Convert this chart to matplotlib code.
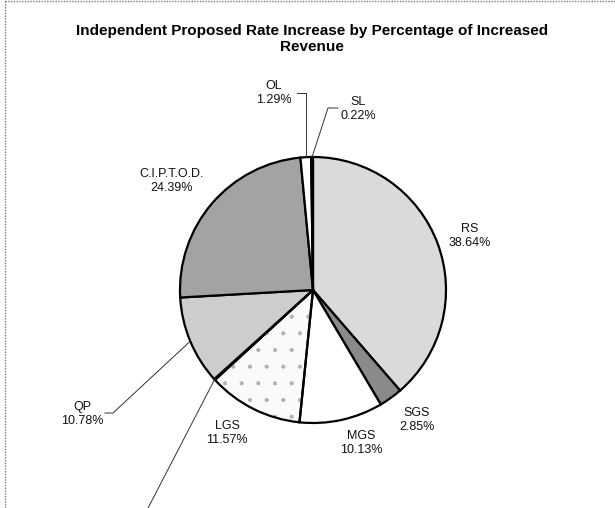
import numpy as np
import matplotlib
matplotlib.use("Agg")
import matplotlib.pyplot as plt
from matplotlib.lines import Line2D
from matplotlib.patches import Wedge

plt.rcParams['font.family'] = ['Liberation Sans', 'DejaVu Sans']
plt.rcParams['hatch.linewidth'] = 0.5

# Rate classes, clockwise from 12 o'clock
categories = ["RS", "SGS", "MGS", "LGS", "", "QP", "C.I.P.T.O.D.", "OL", "SL"]
shares = [38.64, 2.85, 10.13, 11.57, 0.13, 10.78, 24.39, 1.29, 0.22]
fills = ["#dadada", "#8a8a8a", "#ffffff", "#fafafa", "#ffffff",
         "#cdcdcd", "#a3a3a3", "#ffffff", "#111111"]
title = "Independent Proposed Rate Increase by Percentage of Increased\nRevenue"

W, H = 615, 508
fig = plt.figure(figsize=(W / 100, H / 100), dpi=100)
ax = fig.add_axes([0, 0, 1, 1])

cx, cy, r = 313, H - 290, 133
wedges, _ = ax.pie(shares, startangle=90, counterclock=False,
                   center=(cx, cy), radius=r, colors=fills,
                   wedgeprops=dict(edgecolor="black", linewidth=1.6))

# light stipple on the LGS slice, drawn beneath its black outline
lgs = wedges[3]
stipple = Wedge((cx, cy), r, lgs.theta1, lgs.theta2, facecolor="none",
                edgecolor="#b0b0b0", hatch=".", linewidth=0, zorder=lgs.get_zorder())
ax.add_patch(stipple)
lgs.set_zorder(lgs.get_zorder() + 0.1)
lgs.set_facecolor("none")
ax.add_patch(Wedge((cx, cy), r, lgs.theta1, lgs.theta2, facecolor="#fafafa",
                   linewidth=0, zorder=lgs.get_zorder() - 0.2))

ax.set_xlim(0, W)
ax.set_ylim(0, H)
ax.set_aspect("equal")
ax.axis("off")


def edge_point(w):
    mid = np.deg2rad((w.theta1 + w.theta2) / 2)
    return cx + r * np.cos(mid), cy + r * np.sin(mid)


def px(x, y):
    return x, H - y


# label centres (pixel coords, y down) for each class
label_pos = {
    "RS": (470, 236),
    "SGS": (417, 420),
    "MGS": (361, 443),
    "LGS": (227, 433),
    "QP": (82, 414),
    "C.I.P.T.O.D.": (172, 181),
    "OL": (274, 93),
    "SL": (358, 109),
}

for name, val in zip(categories, shares):
    if not name:
        continue
    x, y = label_pos[name]
    ax.text(*px(x, y), f"{name}\n{val:.2f}%", ha="center", va="center",
            fontsize=9, linespacing=1.2, color="#111111")

lead_kw = dict(color="#333333", linewidth=0.7)

# OL leader: up from slice then left
ex, ey = edge_point(wedges[7])
ax.plot([ex, ex, 297], [ey, H - 93, H - 93], **lead_kw)
# SL leader: up-right then right
ex, ey = edge_point(wedges[8])
ax.plot([ex, 328, 338], [ey, H - 108, H - 108], **lead_kw)
# QP leader: down-left then left
ex, ey = edge_point(wedges[5])
ax.plot([ex, 113, 105], [ey, H - 413, H - 413], **lead_kw)
# small unlabeled slice leader running off the bottom
ex, ey = edge_point(wedges[4])
ax.plot([ex, 146], [ey, H - 512], **lead_kw)

fig.text(312 / W, 1 - 39 / H, title, ha="center", va="center",
         fontsize=11, fontweight="bold", linespacing=1.25)

# dotted outer frame (left and top)
fig.add_artist(Line2D([5 / W, 5 / W], [0, 1 - 1 / H], transform=fig.transFigure,
                      color="#777777", linewidth=1.0, linestyle=(0, (1, 1))))
fig.add_artist(Line2D([5 / W, 1], [1 - 1 / H, 1 - 1 / H], transform=fig.transFigure,
                      color="#777777", linewidth=1.0, linestyle=(0, (1, 1))))

fig.savefig("out.png", dpi=100, facecolor="white")
